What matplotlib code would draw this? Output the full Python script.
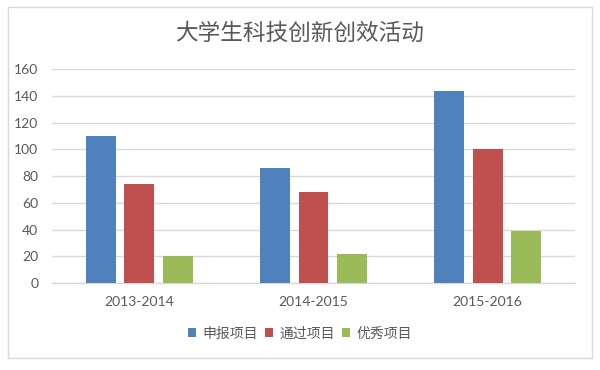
import matplotlib

matplotlib.use("Agg")
import matplotlib.pyplot as plt
import numpy as np
from matplotlib.patches import Rectangle

plt.rcParams["font.family"] = ["Lato", "Noto Sans CJK SC", "DejaVu Sans"]

TITLE = "大学生科技创新创效活动"
CATEGORIES = ["2013-2014", "2014-2015", "2015-2016"]
SERIES_NAMES = ["申报项目", "通过项目", "优秀项目"]
SHENBAO = [110, 86, 144]
TONGGUO = [74, 68, 100]
YOUXIU = [20, 22, 39]
Y_TICKS = [0, 20, 40, 60, 80, 100, 120, 140, 160]

COLORS = ["#4F81BD", "#C0504D", "#9BBB59"]
TEXT = "#595959"
GRID = "#D9D9D9"

fig = plt.figure(figsize=(6.0, 3.7), dpi=100)
ax = fig.add_axes([0.087, 0.235, 0.871, 0.578])

x = np.arange(len(CATEGORIES))
width = 0.172
step = 0.222
for i, (vals, name, color) in enumerate(zip([SHENBAO, TONGGUO, YOUXIU], SERIES_NAMES, COLORS)):
    ax.bar(x + (i - 1) * step, vals, width, color=color, label=name, zorder=3)

ax.set_xlim(-0.5, len(CATEGORIES) - 0.5)
ax.set_ylim(0, 160)
ax.set_yticks(Y_TICKS)
ax.set_xticks(x)
ax.set_xticklabels(CATEGORIES)
ax.tick_params(axis="both", length=0, labelsize=10, colors=TEXT)
ax.tick_params(axis="x", pad=9)
ax.tick_params(axis="y", pad=10)
ax.grid(axis="y", color=GRID, linewidth=1.0, zorder=0)
for side in ["top", "right", "left"]:
    ax.spines[side].set_visible(False)
ax.spines["bottom"].set_color(GRID)
ax.spines["bottom"].set_linewidth(1.0)

fig.text(0.5, 0.911, TITLE, ha="center", va="center", fontsize=16.3, color=TEXT)

fig.legend(
    loc="center",
    bbox_to_anchor=(0.5, 0.1),
    ncol=3,
    frameon=False,
    fontsize=10,
    labelcolor=TEXT,
    handlelength=0.6,
    handleheight=0.6,
    handletextpad=0.5,
    columnspacing=0.45,
)

fig.patches.append(
    Rectangle((8 / 600, 12 / 370), 584 / 600, 351 / 370, transform=fig.transFigure,
              fill=False, edgecolor="#D9D9D9", linewidth=1.0)
)

fig.savefig("out.png", dpi=100)
